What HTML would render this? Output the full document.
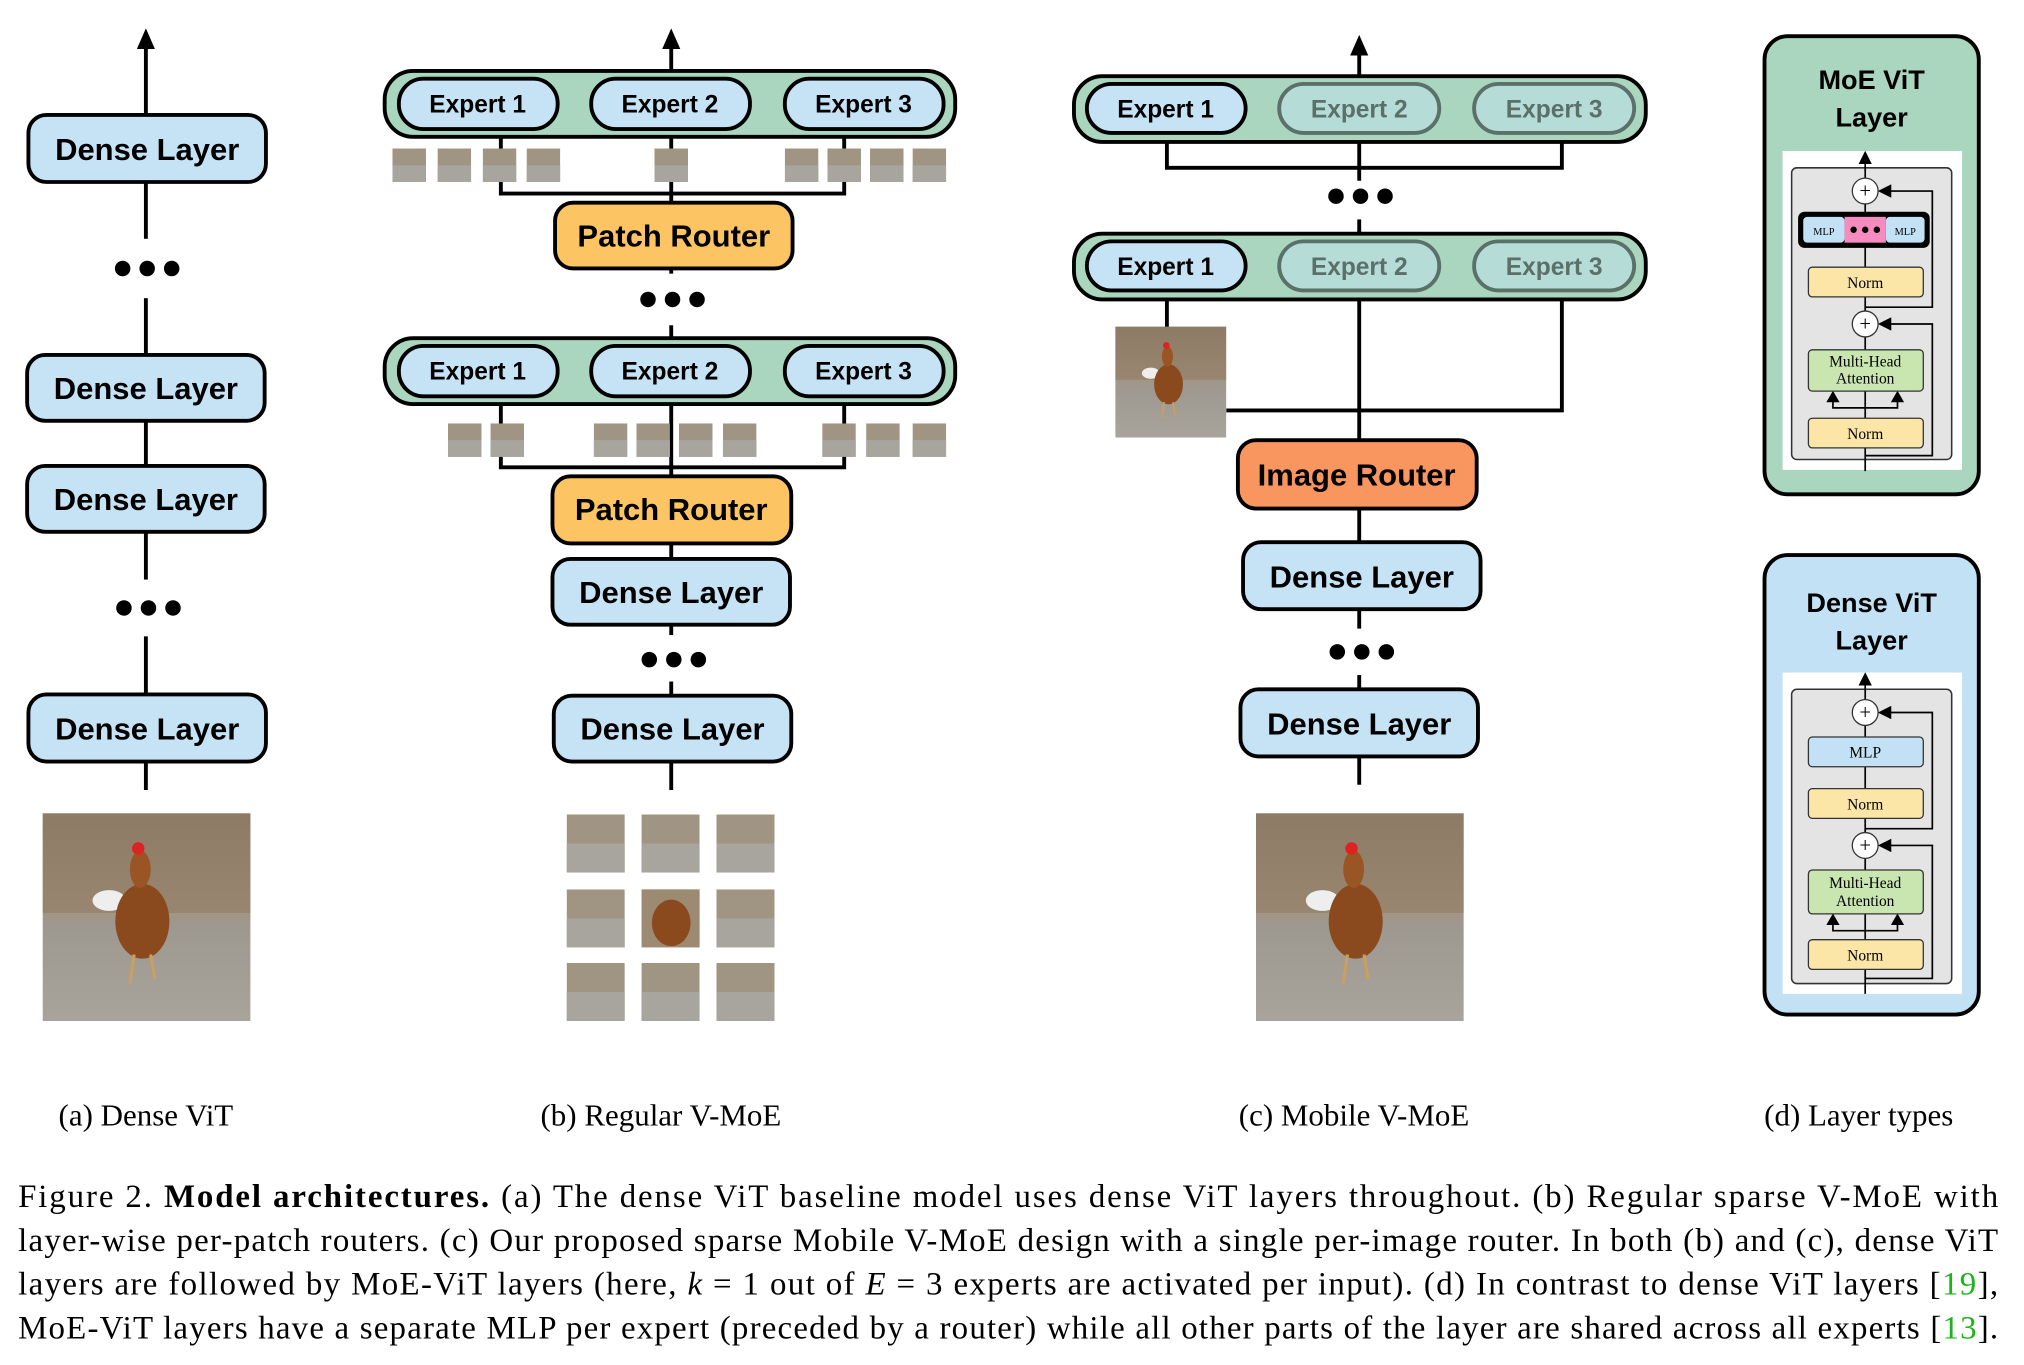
<!DOCTYPE html>
<html><head><meta charset="utf-8"><style>html,body{margin:0;padding:0;background:#fff}svg{display:block}</style></head><body>
<svg width="2024" height="1365" viewBox="0 0 1568 1057.5" xmlns="http://www.w3.org/2000/svg" font-family="Liberation Sans, Arial, sans-serif">
<defs>
<linearGradient id="bg" x1="0" y1="0" x2="0" y2="1"><stop offset="0" stop-color="#8a7a66"/><stop offset="0.45" stop-color="#a49580"/><stop offset="0.55" stop-color="#9d9890"/><stop offset="1" stop-color="#a8a49c"/></linearGradient>
<symbol id="photo" viewBox="0 0 100 100">
<rect width="100" height="100" fill="url(#bg)"/>
<rect y="0" width="100" height="48" fill="#8f7c64" opacity="0.6"/>
<ellipse cx="32" cy="42" rx="8" ry="5" fill="#eee"/>
<ellipse cx="48" cy="52" rx="13" ry="18" fill="#8b4a1e"/>
<ellipse cx="47" cy="27" rx="5" ry="9" fill="#9a5524"/>
<circle cx="46" cy="17" r="3" fill="#d22"/>
<line x1="44" y1="68" x2="42" y2="82" stroke="#c9a060" stroke-width="1.5"/>
<line x1="52" y1="68" x2="54" y2="80" stroke="#c9a060" stroke-width="1.5"/>
</symbol>
<symbol id="patch" viewBox="0 0 10 10"><rect width="10" height="10" fill="#a09482"/><rect y="5" width="10" height="5" fill="#a8a59e"/></symbol>
<marker id="ar" markerWidth="8" markerHeight="8" refX="4" refY="4" orient="auto"><path d="M0,0 L8,4 L0,8 z" fill="#000"/></marker>
</defs>
<g stroke="#000" stroke-width="3" fill="none">
<line x1="113" y1="32" x2="113" y2="612"/>
<line x1="520" y1="32" x2="520" y2="612"/>
<polyline points="388,100 388,150 654,150 654,100"/>
<polyline points="388,313 388,362 654,362 654,313"/>
<line x1="1053" y1="36" x2="1053" y2="140"/>
<polyline points="904,103 904,130 1210,130 1210,103"/>
<line x1="1053" y1="162" x2="1053" y2="608"/>
<line x1="904" y1="225" x2="904" y2="255"/>
<polyline points="950,318 1210,318 1210,225"/>
</g>
<path d="M113,22 L106,38 L120,38 z M520,22 L513,38 L527,38 z M1053,27 L1046,43 L1060,43 z"/>
<g fill="#fff"><rect x="80" y="185" width="66" height="46"/><rect x="80" y="449" width="66" height="44"/><rect x="488" y="212" width="66" height="40"/><rect x="488" y="492" width="66" height="36"/><rect x="1020" y="487" width="66" height="36"/><rect x="1020" y="141" width="66" height="38"/></g>
<g fill="#000">
<circle cx="95" cy="208" r="6"/><circle cx="114" cy="208" r="6"/><circle cx="133" cy="208" r="6"/>
<circle cx="96" cy="471" r="6"/><circle cx="115" cy="471" r="6"/><circle cx="134" cy="471" r="6"/>
<circle cx="502" cy="232" r="6"/><circle cx="521" cy="232" r="6"/><circle cx="540" cy="232" r="6"/>
<circle cx="503" cy="511" r="6"/><circle cx="522" cy="511" r="6"/><circle cx="541" cy="511" r="6"/>
<circle cx="1035" cy="152" r="6"/><circle cx="1054" cy="152" r="6"/><circle cx="1073" cy="152" r="6"/>
<circle cx="1036" cy="505" r="6"/><circle cx="1055" cy="505" r="6"/><circle cx="1074" cy="505" r="6"/>
</g>
<line x1="1053" y1="170" x2="1053" y2="182" stroke="#000" stroke-width="3"/>
<g stroke="#000" stroke-width="3">
<g fill="#C5E3F5">
<rect x="22" y="89" width="184" height="52" rx="14"/>
<rect x="21" y="275" width="184" height="51" rx="14"/>
<rect x="21" y="361" width="184" height="51" rx="14"/>
<rect x="22" y="538" width="184" height="52" rx="14"/>
<rect x="428" y="433" width="184" height="51" rx="14"/>
<rect x="429" y="539" width="184" height="51" rx="14"/>
<rect x="963" y="420" width="184" height="52" rx="14"/>
<rect x="961" y="534" width="184" height="52" rx="14"/>
</g>
<rect x="430" y="157" width="184" height="51" rx="14" fill="#FDC463"/>
<rect x="428" y="369" width="185" height="52" rx="14" fill="#FDC463"/>
<rect x="959" y="341" width="185" height="53" rx="14" fill="#F9965F"/>
<g fill="#AAD5BF">
<rect x="298" y="55" width="442" height="51" rx="22"/>
<rect x="298" y="262" width="442" height="51" rx="22"/>
<rect x="832" y="59" width="443" height="51" rx="22"/>
<rect x="832" y="181" width="443" height="51" rx="22"/>
</g>
<g fill="#C5E3F5">
<rect x="309" y="61" width="123" height="39" rx="19"/><rect x="458" y="61" width="123" height="39" rx="19"/><rect x="608" y="61" width="123" height="39" rx="19"/>
<rect x="309" y="268" width="123" height="39" rx="19"/><rect x="458" y="268" width="123" height="39" rx="19"/><rect x="608" y="268" width="123" height="39" rx="19"/>
<rect x="842" y="65" width="123" height="38" rx="19"/><rect x="842" y="187" width="123" height="38" rx="19"/>
</g>
<g fill="#B5DCD7" stroke="#5a7068">
<rect x="991" y="65" width="124" height="38" rx="19"/><rect x="1142" y="65" width="124" height="38" rx="19"/>
<rect x="991" y="187" width="124" height="38" rx="19"/><rect x="1142" y="187" width="124" height="38" rx="19"/>
</g>
</g>
<g font-size="24" text-anchor="middle" fill="#000" style="font-weight:600">
<text x="114" y="124">Dense Layer</text><text x="113" y="309">Dense Layer</text><text x="113" y="395">Dense Layer</text><text x="114" y="573">Dense Layer</text>
<text x="520" y="467">Dense Layer</text><text x="521" y="573">Dense Layer</text>
<text x="1055" y="455">Dense Layer</text><text x="1053" y="569">Dense Layer</text>
<text x="522" y="191">Patch Router</text><text x="520" y="403">Patch Router</text><text x="1051" y="376">Image Router</text>
</g>
<g font-size="19" text-anchor="middle" fill="#000" style="font-weight:600">
<text x="370" y="87">Expert 1</text><text x="519" y="87">Expert 2</text><text x="669" y="87">Expert 3</text>
<text x="370" y="294">Expert 1</text><text x="519" y="294">Expert 2</text><text x="669" y="294">Expert 3</text>
<text x="903" y="91">Expert 1</text><text x="903" y="213">Expert 1</text>
<g fill="#5a7068"><text x="1053" y="91">Expert 2</text><text x="1204" y="91">Expert 3</text><text x="1053" y="213">Expert 2</text><text x="1204" y="213">Expert 3</text></g>
</g>
<g>
<use href="#patch" x="304" y="115" width="26" height="26"/><use href="#patch" x="339" y="115" width="26" height="26"/><use href="#patch" x="374" y="115" width="26" height="26"/><use href="#patch" x="408" y="115" width="26" height="26"/>
<use href="#patch" x="507" y="115" width="26" height="26"/>
<use href="#patch" x="608" y="115" width="26" height="26"/><use href="#patch" x="641" y="115" width="26" height="26"/><use href="#patch" x="674" y="115" width="26" height="26"/><use href="#patch" x="707" y="115" width="26" height="26"/>
<use href="#patch" x="347" y="328" width="26" height="26"/><use href="#patch" x="380" y="328" width="26" height="26"/>
<use href="#patch" x="460" y="328" width="26" height="26"/><use href="#patch" x="493" y="328" width="26" height="26"/><use href="#patch" x="526" y="328" width="26" height="26"/><use href="#patch" x="560" y="328" width="26" height="26"/>
<use href="#patch" x="637" y="328" width="26" height="26"/><use href="#patch" x="671" y="328" width="26" height="26"/><use href="#patch" x="707" y="328" width="26" height="26"/>
</g>
<use href="#photo" x="33" y="630" width="161" height="161"/>
<use href="#photo" x="973" y="630" width="161" height="161"/>
<use href="#photo" x="864" y="253" width="86" height="86"/>
<g>
<use href="#patch" x="439" y="631" width="45" height="45"/><use href="#patch" x="497" y="631" width="45" height="45"/><use href="#patch" x="555" y="631" width="45" height="45"/>
<use href="#patch" x="439" y="689" width="45" height="45"/><use href="#patch" x="555" y="689" width="45" height="45"/>
<use href="#patch" x="439" y="746" width="45" height="45"/><use href="#patch" x="497" y="746" width="45" height="45"/><use href="#patch" x="555" y="746" width="45" height="45"/>
<rect x="497" y="689" width="45" height="45" fill="#9c8a72"/><ellipse cx="520" cy="715" rx="15" ry="18" fill="#8b4a1e"/>
</g>
<rect x="1367" y="28" width="166" height="355" rx="18" fill="#AAD5BF" stroke="#000" stroke-width="3"/>
<rect x="1367" y="430" width="166" height="356" rx="18" fill="#C2E1F4" stroke="#000" stroke-width="3"/>
<g font-size="21" text-anchor="middle" style="font-weight:700"><text x="1450" y="69">MoE ViT</text><text x="1450" y="98">Layer</text><text x="1450" y="474">Dense ViT</text><text x="1450" y="503">Layer</text></g>
<rect x="1381" y="117" width="139" height="247" fill="#fff"/>
<rect x="1381" y="521" width="139" height="249" fill="#fff"/>
<g stroke="#333" stroke-width="1.2">
<rect x="1388" y="130" width="124" height="226" rx="4" fill="#e4e4e4"/>
<rect x="1388" y="534" width="124" height="228" rx="4" fill="#e4e4e4"/>
</g>
<g stroke="#000" stroke-width="1.3" fill="none">
<line x1="1445" y1="365" x2="1445" y2="122" marker-end="url(#ar)"/>
<polyline points="1445,353 1497,353 1497,251 1460,251" marker-end="url(#ar)"/>
<polyline points="1445,238 1497,238 1497,148 1460,148" marker-end="url(#ar)"/>
<polyline points="1420,307 1420,316 1470,316 1470,307"/>
<path d="M1416,311 L1420,304 L1424,311 z M1466,311 L1470,304 L1474,311 z" fill="#000"/>
<line x1="1445" y1="770" x2="1445" y2="526" marker-end="url(#ar)"/>
<polyline points="1445,758 1497,758 1497,655 1460,655" marker-end="url(#ar)"/>
<polyline points="1445,642 1497,642 1497,552 1460,552" marker-end="url(#ar)"/>
<polyline points="1420,712 1420,721 1470,721 1470,712"/>
<path d="M1416,716 L1420,709 L1424,716 z M1466,716 L1470,709 L1474,716 z" fill="#000"/>
</g>
<g stroke="#333" stroke-width="1">
<circle cx="1445" cy="148" r="10" fill="#fff"/><circle cx="1445" cy="251" r="10" fill="#fff"/>
<circle cx="1445" cy="552" r="10" fill="#fff"/><circle cx="1445" cy="655" r="10" fill="#fff"/>
<rect x="1401" y="207" width="89" height="23" rx="3" fill="#FBE6A8"/>
<rect x="1401" y="271" width="89" height="32" rx="3" fill="#C9E5B0"/>
<rect x="1401" y="324" width="89" height="23" rx="3" fill="#FBE6A8"/>
<rect x="1401" y="571" width="89" height="23" rx="3" fill="#C2E1F4"/>
<rect x="1401" y="611" width="89" height="23" rx="3" fill="#FBE6A8"/>
<rect x="1401" y="674" width="89" height="34" rx="3" fill="#C9E5B0"/>
<rect x="1401" y="728" width="89" height="23" rx="3" fill="#FBE6A8"/>
</g>
<rect x="1393" y="164" width="102" height="28" rx="5" fill="#000"/>
<rect x="1429" y="168" width="32" height="20" fill="#F48CC0"/>
<rect x="1397" y="168" width="32" height="20" rx="3" fill="#C2E1F4"/>
<rect x="1461" y="168" width="30" height="20" rx="3" fill="#C2E1F4"/>
<circle cx="1436" cy="178" r="2.5"/><circle cx="1445" cy="178" r="2.5"/><circle cx="1454" cy="178" r="2.5"/>
<g font-family="Liberation Serif, serif" text-anchor="middle" fill="#000">
<text x="1445" y="153" font-size="16">+</text><text x="1445" y="256" font-size="16">+</text><text x="1445" y="557" font-size="16">+</text><text x="1445" y="660" font-size="16">+</text>
<text x="1413" y="182" font-size="8">MLP</text><text x="1476" y="182" font-size="8">MLP</text>
<g font-size="12"><text x="1445" y="223">Norm</text><text x="1445" y="284">Multi-Head</text><text x="1445" y="297">Attention</text><text x="1445" y="340">Norm</text>
<text x="1445" y="587">MLP</text><text x="1445" y="627">Norm</text><text x="1445" y="688">Multi-Head</text><text x="1445" y="702">Attention</text><text x="1445" y="744">Norm</text></g>
</g>
<g font-family="Liberation Serif, serif" font-size="24" text-anchor="middle" fill="#000">
<text x="113" y="872">(a) Dense ViT</text><text x="512" y="872">(b) Regular V-MoE</text><text x="1049" y="872">(c) Mobile V-MoE</text><text x="1440" y="872">(d) Layer types</text>
</g>
<g font-family="Liberation Serif, serif" font-size="25.5" fill="#000">
<text x="14" y="935" textLength="1534" lengthAdjust="spacing">Figure 2.  <tspan font-weight="bold">Model architectures.</tspan>  (a) The dense ViT baseline model uses dense ViT layers throughout.  (b) Regular sparse V-MoE with</text>
<text x="14" y="969" textLength="1534" lengthAdjust="spacing">layer-wise per-patch routers. (c) Our proposed sparse Mobile V-MoE design with a single per-image router. In both (b) and (c), dense ViT</text>
<text x="14" y="1003" textLength="1534" lengthAdjust="spacing">layers are followed by MoE-ViT layers (here, <tspan font-style="italic">k</tspan> = 1 out of <tspan font-style="italic">E</tspan> = 3 experts are activated per input). (d) In contrast to dense ViT layers [<tspan fill="#1db31d">19</tspan>],</text>
<text x="14" y="1037" textLength="1534" lengthAdjust="spacing">MoE-ViT layers have a separate MLP per expert (preceded by a router) while all other parts of the layer are shared across all experts [<tspan fill="#1db31d">13</tspan>].</text>
</g>
</svg>
</body></html>
